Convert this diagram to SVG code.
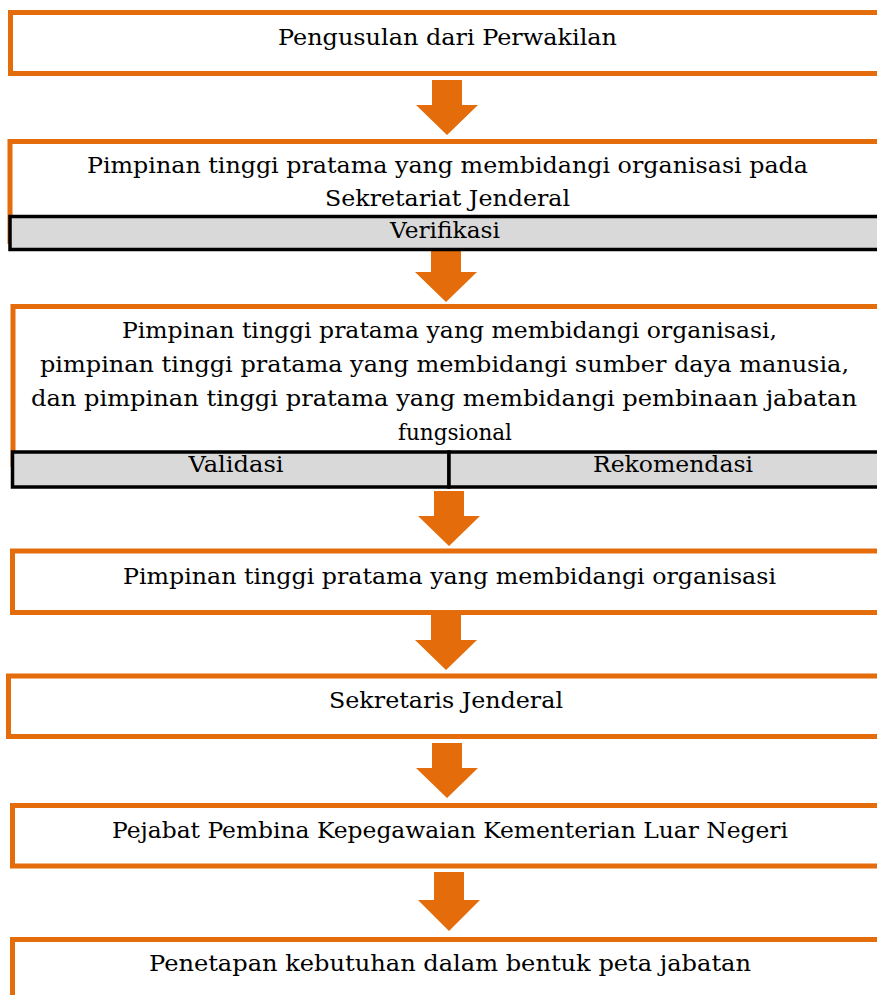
<svg xmlns="http://www.w3.org/2000/svg" width="877" height="995" viewBox="0 0 877 995">
<defs>
<style>
.box{fill:#fff;stroke:#E46C0A;stroke-width:5}
.bar{fill:#D9D9D9;stroke:#000;stroke-width:3.5}
.arr{fill:#E46C0A}
text{font-family:"DejaVu Serif","Liberation Serif",serif;font-size:22px;fill:#000;text-anchor:middle}
</style>
<path id="arrow" d="M-15,0 H15 V25 H31 L0,55 L-31,25 H-15 Z"/>
<path id="arrowL" d="M-15,0 H15 V28 H31 L0,59 L-31,28 H-15 Z"/>
</defs>
<rect width="877" height="995" fill="#fff"/>
<g id="connectors">
<use href="#arrow" class="arr" x="447" y="80"/>
<use href="#arrow" class="arr" x="446" y="247"/>
<use href="#arrow" class="arr" x="449" y="491"/>
<use href="#arrow" class="arr" x="446" y="615"/>
<use href="#arrow" class="arr" x="447" y="743"/>
<use href="#arrowL" class="arr" x="449" y="872"/>
</g>
<g id="n1">
<rect class="box" x="10.5" y="12.5" width="880" height="61"/>
<text x="447.5" y="45" textLength="339" lengthAdjust="spacingAndGlyphs">Pengusulan dari Perwakilan</text>
</g>
<g id="n2">
<rect class="box" x="10" y="141.5" width="880" height="100"/>
<text x="447.5" y="173" textLength="721" lengthAdjust="spacingAndGlyphs">Pimpinan tinggi pratama yang membidangi organisasi pada</text>
<text x="447.5" y="206" textLength="245" lengthAdjust="spacingAndGlyphs">Sekretariat Jenderal</text>
</g>
<g id="n2-verifikasi">
<rect class="bar" x="10" y="216.5" width="880" height="33"/>
<text x="445" y="238" textLength="110" lengthAdjust="spacingAndGlyphs">Verifikasi</text>
</g>
<g id="n3">
<rect class="box" x="13" y="306.5" width="880" height="158"/>
<text x="449.5" y="338" textLength="655" lengthAdjust="spacingAndGlyphs">Pimpinan tinggi pratama yang membidangi organisasi,</text>
<text x="444.5" y="372" textLength="809" lengthAdjust="spacingAndGlyphs">pimpinan tinggi pratama yang membidangi sumber daya manusia,</text>
<text x="444" y="406" textLength="826" lengthAdjust="spacingAndGlyphs">dan pimpinan tinggi pratama yang membidangi pembinaan jabatan</text>
<text x="455" y="440" textLength="114" lengthAdjust="spacingAndGlyphs">fungsional</text>
</g>
<g id="n3-validasi">
<rect class="bar" x="12.5" y="452" width="436.5" height="35"/>
<text x="236" y="472" textLength="95" lengthAdjust="spacingAndGlyphs">Validasi</text>
</g>
<g id="n3-rekomendasi">
<rect class="bar" x="449" y="452" width="440" height="35"/>
<text x="673" y="472" textLength="160" lengthAdjust="spacingAndGlyphs">Rekomendasi</text>
</g>
<g id="n4">
<rect class="box" x="12.5" y="551" width="880" height="61.5"/>
<text x="449.5" y="584" textLength="653" lengthAdjust="spacingAndGlyphs">Pimpinan tinggi pratama yang membidangi organisasi</text>
</g>
<g id="n5">
<rect class="box" x="8.5" y="676" width="880" height="60.5"/>
<text x="446" y="708" textLength="234" lengthAdjust="spacingAndGlyphs">Sekretaris Jenderal</text>
</g>
<g id="n6">
<rect class="box" x="12.5" y="805.5" width="880" height="60.5"/>
<text x="450" y="838" textLength="676" lengthAdjust="spacingAndGlyphs">Pejabat Pembina Kepegawaian Kementerian Luar Negeri</text>
</g>
<g id="n7">
<rect class="box" x="12.5" y="939.5" width="880" height="80"/>
<text x="450" y="971" textLength="602" lengthAdjust="spacingAndGlyphs">Penetapan kebutuhan dalam bentuk peta jabatan</text>
</g>
</svg>
